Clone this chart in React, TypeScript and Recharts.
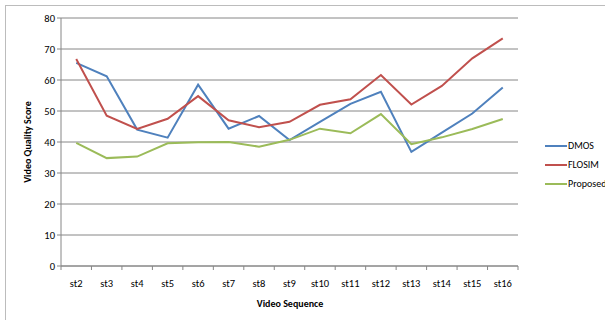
import React from 'react';
import { LineChart, Line, XAxis, YAxis, CartesianGrid } from 'recharts';

const sequences = ['st2', 'st3', 'st4', 'st5', 'st6', 'st7', 'st8', 'st9', 'st10', 'st11', 'st12', 'st13', 'st14', 'st15', 'st16'];
const dmos = [65.5, 61.2, 44.0, 41.4, 58.5, 44.3, 48.4, 40.6, 46.5, 52.3, 56.2, 36.8, 43.0, 49.2, 57.6];
const flosim = [66.8, 48.5, 44.2, 47.5, 54.8, 47.0, 44.8, 46.5, 52.0, 53.8, 61.6, 52.1, 58.1, 67.0, 73.4];
const proposed = [39.7, 34.8, 35.3, 39.6, 39.9, 40.0, 38.5, 40.7, 44.3, 42.8, 49.0, 39.3, 41.5, 44.2, 47.4];
const yTicks = [0, 10, 20, 30, 40, 50, 60, 70, 80];

const series = [
  { key: 'DMOS', color: '#4F81BD' },
  { key: 'FLOSIM', color: '#C0504D' },
  { key: 'Proposed', color: '#9BBB59' },
];

const data = sequences.map((name, i) => ({
  name,
  DMOS: dmos[i],
  FLOSIM: flosim[i],
  Proposed: proposed[i],
}));

const FONT = 'Carlito, "Liberation Sans", Arial, sans-serif';
const PLOT_LEFT = 61;
const PLOT_RIGHT = 518;
const PLOT_TOP = 18;
const PLOT_BOTTOM = 266;
const BAND = (PLOT_RIGHT - PLOT_LEFT) / sequences.length;

// Excel-style category ticks: marks sit between categories, labels in the middle
const CategoryTick = (props: any) => {
  const { x, payload, index } = props;
  const left = x - BAND / 2;
  return (
    <g>
      <line x1={left} y1={PLOT_BOTTOM} x2={left} y2={PLOT_BOTTOM + 4} stroke="#868686" />
      {index === sequences.length - 1 && (
        <line x1={left + BAND} y1={PLOT_BOTTOM} x2={left + BAND} y2={PLOT_BOTTOM + 4} stroke="#868686" />
      )}
      <text x={x} y={PLOT_BOTTOM + 21} textAnchor="middle" fontSize={10.5} fill="#000" fontFamily={FONT}>
        {payload.value}
      </text>
    </g>
  );
};

export default function App() {
  return (
    <div style={{ position: 'absolute', left: 0, top: 0, width: 605, height: 320, background: '#fff', overflow: 'hidden' }}>
      <LineChart
        width={605}
        height={320}
        data={data}
        margin={{ top: PLOT_TOP, right: 605 - PLOT_RIGHT, left: 0, bottom: 0 }}
        style={{ fontFamily: FONT }}
      >
        <CartesianGrid vertical={false} stroke="#868686" strokeWidth={1} />
        <XAxis
          dataKey="name"
          scale="band"
          axisLine={{ stroke: '#868686' }}
          tickLine={false}
          tick={<CategoryTick />}
          interval={0}
          height={320 - PLOT_BOTTOM}
        />
        <YAxis
          domain={[0, 80]}
          ticks={yTicks}
          width={PLOT_LEFT}
          axisLine={{ stroke: '#868686' }}
          tickLine={{ stroke: '#868686' }}
          tickSize={4}
          tick={{ fontSize: 10.5, fill: '#000', fontFamily: FONT }}
          interval={0}
        />
        {series.map((s) => (
          <Line
            key={s.key}
            type="linear"
            dataKey={s.key}
            stroke={s.color}
            strokeWidth={2}
            dot={false}
            isAnimationActive={false}
          />
        ))}
      </LineChart>
      <div
        style={{
          position: 'absolute',
          left: 5,
          top: 5,
          width: 700,
          height: 400,
          borderTop: '1px solid #bcbcbc',
          borderLeft: '1px solid #bcbcbc',
          zIndex: 2,
          pointerEvents: 'none',
        }}
      />
      <div style={{ position: 'absolute', left: 545, top: 136, fontFamily: FONT, fontSize: 10, zIndex: 3 }}>
        {series.map((s) => (
          <div key={s.key} style={{ display: 'flex', alignItems: 'center', height: 19 }}>
            <span style={{ display: 'inline-block', width: 22, height: 2, background: s.color }} />
            <span style={{ marginLeft: 1 }}>{s.key}</span>
          </div>
        ))}
      </div>
      <div
        style={{
          position: 'absolute',
          left: 27,
          top: 142,
          transform: 'translate(-50%, -50%) rotate(-90deg)',
          fontFamily: FONT,
          fontWeight: 'bold',
          fontSize: 10,
          whiteSpace: 'nowrap',
        }}
      >
        Video Quality Score
      </div>
      <div
        style={{
          position: 'absolute',
          left: 290,
          top: 303,
          transform: 'translate(-50%, -50%)',
          fontFamily: FONT,
          fontWeight: 'bold',
          fontSize: 10,
          whiteSpace: 'nowrap',
        }}
      >
        Video Sequence
      </div>
    </div>
  );
}
